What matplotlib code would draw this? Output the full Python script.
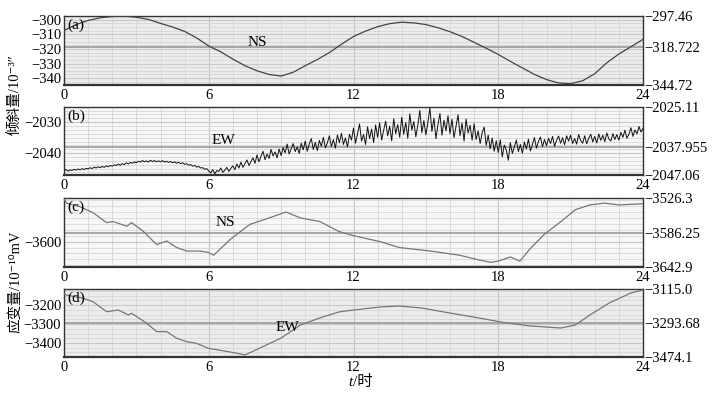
import numpy as np
import matplotlib
matplotlib.use("Agg")
import matplotlib.pyplot as plt

plt.rcParams['font.family'] = ['Liberation Serif', 'Noto Sans CJK SC', 'DejaVu Sans']
plt.rcParams['axes.unicode_minus'] = True

# ---------------- data ----------------
# (a) tilt NS
a_hours = [0, 0.5, 1, 1.5, 2, 2.5, 3, 3.5, 4, 4.5, 5, 5.5, 6, 6.5, 7, 7.5, 8, 8.5, 9, 9.5, 10,
           10.5, 11, 11.5, 12, 12.5, 13, 13.5, 14, 14.5, 15, 15.5, 16, 16.5, 17, 17.5, 18, 18.5,
           19, 19.5, 20, 20.5, 21, 21.5, 22, 22.5, 23, 23.5, 24]
a_vals = [-307.5, -303.3, -300.5, -298.7, -297.8, -297.6, -298.3, -299.8, -302.5, -305.0, -308.0,
          -312.5, -318.0, -322.0, -327.0, -331.5, -335.0, -337.5, -338.6, -336.0, -331.5,
          -327.3, -322.5, -316.8, -311.5, -307.8, -304.8, -302.7, -301.7, -302.2, -303.3,
          -305.5, -308.2, -311.5, -315.5, -319.5, -323.8, -328.5, -333.0, -337.5, -341.0,
          -343.3, -343.8, -341.8, -337.0, -329.5, -323.5, -318.5, -313.5]

# (b) tilt EW (5-minute samples, 0..24 h)
b_vals = [
    -2045.6, -2045.3, -2045.8, -2045.4, -2045.6, -2045.2, -2045.5, -2045.1, -2045.4, -2045.0, -2045.3, -2044.9,
    -2045.1, -2044.7, -2045.0, -2044.5, -2044.8, -2044.4, -2044.7, -2044.3, -2044.6, -2044.1, -2044.4, -2044.0,
    -2044.2, -2043.8, -2044.0, -2043.5, -2043.9, -2043.4, -2043.7, -2043.1, -2043.5, -2043.0, -2043.3, -2042.8,
    -2043.1, -2042.6, -2042.9, -2042.4, -2042.8, -2042.5, -2042.9, -2042.3, -2042.7, -2042.4, -2042.8, -2042.5,
    -2042.8, -2042.4, -2042.9, -2042.6, -2043.0, -2042.7, -2043.1, -2042.8, -2043.3, -2042.9, -2043.4, -2043.1,
    -2043.6, -2043.4, -2043.9, -2043.7, -2044.2, -2044.0, -2044.5, -2044.3, -2044.8, -2044.7, -2045.2, -2045.0,
    -2045.8, -2046.4, -2045.3, -2046.7, -2045.6, -2045.9, -2044.8, -2046.2, -2045.5, -2044.6, -2045.9, -2044.9,
    -2044.1, -2045.3, -2043.5, -2044.8, -2042.9, -2044.6, -2043.4, -2042.2, -2044.0, -2042.7, -2041.5, -2043.3,
    -2040.6, -2042.8, -2041.0, -2039.4, -2042.1, -2040.3, -2041.7, -2038.8, -2040.9, -2039.6, -2041.5, -2038.7,
    -2040.8, -2038.2, -2039.9, -2037.1, -2040.3, -2038.6, -2036.9, -2039.5, -2038.0, -2040.1, -2036.8, -2038.9,
    -2036.1, -2039.4, -2037.0, -2035.3, -2038.8, -2036.5, -2039.2, -2035.9, -2037.8, -2034.9, -2038.3, -2036.7,
    -2034.4, -2037.9, -2035.6, -2038.4, -2034.1, -2036.7, -2033.6, -2037.2, -2035.1, -2038.0, -2033.9, -2035.8,
    -2031.9, -2036.8, -2033.7, -2030.6, -2036.1, -2034.0, -2037.2, -2031.5, -2035.3, -2032.2, -2036.6, -2030.9,
    -2034.9, -2030.2, -2035.8, -2032.6, -2029.7, -2034.4, -2031.3, -2036.0, -2028.9, -2033.7, -2030.8, -2034.9,
    -2028.4, -2033.9, -2030.1, -2035.2, -2027.3, -2032.6, -2029.8, -2034.7, -2031.0, -2026.2, -2033.4, -2029.5,
    -2034.1, -2030.2, -2025.4, -2033.0, -2028.7, -2035.3, -2030.9, -2027.2, -2034.2, -2029.4, -2032.8, -2027.9,
    -2033.7, -2029.1, -2035.0, -2031.2, -2027.6, -2034.4, -2030.3, -2036.1, -2029.0, -2033.5, -2031.0, -2035.8,
    -2030.5, -2035.6, -2032.8, -2036.9, -2033.4, -2031.6, -2037.5, -2034.2, -2038.6, -2035.1, -2039.4, -2036.0,
    -2039.8, -2035.7, -2041.2, -2037.4, -2039.0, -2042.3, -2036.6, -2040.1, -2037.9, -2035.8, -2039.5, -2037.2,
    -2040.0, -2036.4, -2038.7, -2035.5, -2039.3, -2037.1, -2035.0, -2038.4, -2036.2, -2034.8, -2037.9, -2035.6,
    -2037.6, -2035.2, -2036.9, -2034.6, -2037.8, -2035.9, -2034.5, -2036.8, -2035.0, -2037.3, -2034.4, -2036.1,
    -2034.2, -2036.9, -2035.3, -2037.1, -2034.0, -2035.9, -2036.8, -2034.4, -2037.0, -2035.2, -2033.9, -2036.4,
    -2034.6, -2036.7, -2033.8, -2035.9, -2034.2, -2036.3, -2033.5, -2035.4, -2036.1, -2033.7, -2035.6, -2034.0,
    -2035.8, -2033.3, -2034.9, -2032.6, -2035.2, -2033.9, -2031.8, -2034.6, -2032.5, -2033.8, -2031.4, -2033.2,
    -2032.0]

# (c) strain NS
c_hours = [0, 0.11, 0.66, 1.2, 1.77, 2.03, 2.6, 2.8, 3.27, 3.84, 4.26, 4.67, 5.09, 5.64, 5.97,
           6.2, 6.9, 7.7, 8.5, 9.2, 9.8, 10.6, 11.4, 12, 13.1, 13.9, 15.2, 16.4, 17.2, 17.7,
           18.0, 18.5, 18.9, 19.3, 19.9, 20.6, 21.2, 21.8, 22.4, 23.0, 24.0]
c_vals = [-3528, -3535, -3541, -3551, -3568, -3566, -3574, -3568, -3582, -3605, -3599, -3610,
          -3616, -3616, -3618, -3623, -3596, -3571, -3560, -3550, -3560, -3566, -3583, -3590,
          -3600, -3610, -3616, -3623, -3631, -3635, -3633, -3626, -3633, -3613, -3588, -3566,
          -3546, -3538, -3535, -3538, -3536]

# (d) strain EW
d_hours = [0, 0.11, 0.8, 1.2, 1.77, 2.25, 2.67, 2.8, 3.43, 3.84, 4.26, 4.67, 5.09, 5.5, 5.97,
           6.9, 7.5, 8.1, 9.0, 9.8, 10.6, 11.4, 12.0, 13.1, 13.9, 14.8, 16.0, 17.2, 18.1, 19.3,
           20.6, 21.2, 21.8, 22.6, 23.5, 24.0]
d_vals = [-3140, -3147, -3164, -3182, -3235, -3226, -3252, -3243, -3296, -3340, -3340, -3375,
          -3393, -3402, -3428, -3448, -3463, -3428, -3374, -3305, -3268, -3236, -3226, -3210,
          -3205, -3215, -3242, -3268, -3289, -3310, -3321, -3305, -3252, -3189, -3136, -3120]

x_ticks = [0, 6, 12, 18, 24]
right_ticks = {
    'a': [-297.46, -318.722, -344.72],
    'b': [-2025.11, -2037.955, -2047.06],
    'c': [-3526.3, -3586.25, -3642.9],
    'd': [-3115.0, -3293.68, -3474.1],
}
right_labels = {
    'a': ['\u2212297.46', '\u2212318.722', '\u2212344.72'],
    'b': ['\u22122025.11', '\u22122037.955', '\u22122047.06'],
    'c': ['\u22123526.3', '\u22123586.25', '\u22123642.9'],
    'd': ['\u22123115.0', '\u22123293.68', '\u22123474.1'],
}
left_ticks = {
    'a': [-300, -310, -320, -330, -340],
    'b': [-2030, -2040],
    'c': [-3600],
    'd': [-3200, -3300, -3400],
}
minor_step = {'a': 2.5, 'b': 1.25, 'c': 10, 'd': 25}
panel_letters = ['a', 'b', 'c', 'd']
comp_labels = {'a': 'NS', 'b': 'EW', 'c': 'NS', 'd': 'EW'}
comp_pos = {'a': (0.333, 0.61), 'b': (0.276, 0.5), 'c': (0.278, 0.652), 'd': (0.385, 0.43)}
line_colors = {'a': '#444444', 'b': '#111111', 'c': '#777777', 'd': '#777777'}
line_widths = {'a': 0.9, 'b': 0.7, 'c': 0.9, 'd': 0.9}
bg_colors = {'a': '#ececec', 'b': '#f7f7f7', 'c': '#f7f7f7', 'd': '#ececec'}

# ---------------- figure ----------------
W, H = 723, 396
fig = plt.figure(figsize=(W / 100, H / 100), dpi=100)
boxes = {'a': (16, 85), 'b': (107, 175), 'c': (198, 267), 'd': (289, 357)}
x0, x1 = 64, 643
TFS = 10.5

series = {
    'a': (a_hours, a_vals),
    'b': (np.linspace(0, 24, len(b_vals)), b_vals),
    'c': (c_hours, c_vals),
    'd': (d_hours, d_vals),
}

for p in panel_letters:
    top, bot = boxes[p]
    ax = fig.add_axes([x0 / W, 1 - bot / H, (x1 - x0) / W, (bot - top) / H])
    ax.set_facecolor(bg_colors[p])
    hx, hv = series[p]
    ymin, ymax = right_ticks[p][2], right_ticks[p][0]
    ax.set_xlim(0, 24)
    ax.set_ylim(ymin, ymax)
    ax.set_xticks(np.arange(0, 25, 1), minor=True)
    ax.set_xticks(x_ticks)
    ax.set_xticklabels([str(t) for t in x_ticks], fontsize=TFS)
    ax.set_yticks(left_ticks[p])
    ax.set_yticklabels(['\u2212%d' % abs(v) for v in left_ticks[p]], fontsize=TFS)
    ms = minor_step[p]
    ax.set_yticks(np.arange(np.ceil(ymin / ms) * ms, ymax, ms), minor=True)
    ax.grid(which='minor', color='#d6d6d6', linewidth=0.6)
    ax.grid(which='major', axis='x', color='#c4c4c4', linewidth=0.8)
    ax.grid(which='major', axis='y', color='#c8c8c8', linewidth=0.8)
    ax.axhline(right_ticks[p][1], color='#9a9a9a', linewidth=1.2, zorder=1.5)
    ax.tick_params(which='both', length=0)
    ax.tick_params(axis='x', pad=3)
    ax.tick_params(axis='y', pad=2)
    for s in ax.spines.values():
        s.set_color('#333333')
        s.set_linewidth(1.0)
    ax.spines['bottom'].set_linewidth(1.6)
    ax.set_axisbelow(True)

    ax.plot(hx, hv, color=line_colors[p], linewidth=line_widths[p], zorder=3)

    ax2 = ax.twinx()
    ax2.set_ylim(ymin, ymax)
    ax2.set_yticks(right_ticks[p])
    ax2.set_yticklabels(right_labels[p], fontsize=TFS)
    ax2.tick_params(length=0, pad=1)
    for s in ax2.spines.values():
        s.set_visible(False)

    ax.text(0.006, 0.97, '(%s)' % p, transform=ax.transAxes, ha='left', va='top', fontsize=11,
            zorder=5)
    cx, cy = comp_pos[p]
    ax.text(cx, cy, comp_labels[p], transform=ax.transAxes, ha='center', va='center',
            fontsize=11, zorder=5)

fig.text(15 / W, 1 - 95 / H, '倾斜量/10⁻³″', rotation=90, ha='center', va='center',
         fontsize=10.5)
fig.text(15 / W, 1 - 282 / H, '应变量/10⁻¹⁰mV', rotation=90, ha='center', va='center',
         fontsize=10.5)
fig.text(353 / W, 1 - 382 / H, 't', ha='right', va='center', fontsize=11, style='italic')
fig.text(353 / W, 1 - 382 / H, '/时', ha='left', va='center', fontsize=11)

fig.savefig('out.png', dpi=100)
